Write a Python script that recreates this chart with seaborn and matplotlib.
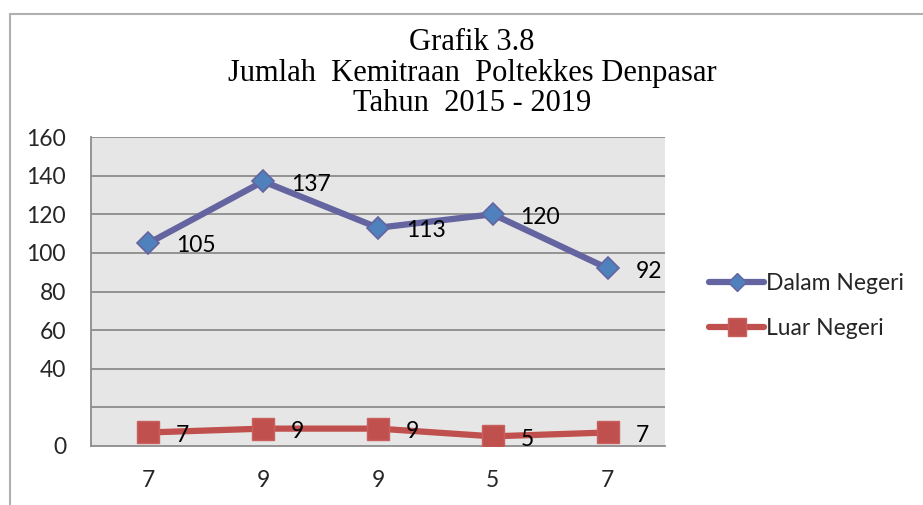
"""
Grafik 3.8 - Jumlah Kemitraan Poltekkes Denpasar, Tahun 2015 - 2019.
"""
import matplotlib
matplotlib.use("Agg")
import matplotlib.pyplot as plt
from matplotlib.lines import Line2D
from matplotlib.patches import Rectangle
import pandas as pd
import seaborn as sns

# data
tahun = [2015, 2016, 2017, 2018, 2019]
dalam_negeri = [105, 137, 113, 120, 92]
luar_negeri = [7, 9, 9, 5, 7]
x_labels = ["7", "9", "9", "5", "7"]
y_ticks = [0, 20, 40, 60, 80, 100, 120, 140, 160]
y_labels = ["0", "", "40", "60", "80", "100", "120", "140", "160"]
judul = ["Grafik 3.8", "Jumlah  Kemitraan  Poltekkes Denpasar", "Tahun  2015 - 2019"]

df = pd.DataFrame({"tahun": tahun, "Dalam Negeri": dalam_negeri, "Luar Negeri": luar_negeri})

sns.set_theme(style="white")
plt.rcParams["font.family"] = ["Lato", "DejaVu Sans"]

W, H = 923, 505
FS = 16.5
fig = plt.figure(figsize=(W / 100, H / 100), dpi=100)
ax = fig.add_axes([91 / W, 1 - 446 / H, 574 / W, 309 / H])
ax.set_facecolor("#e6e6e6")

DALAM_LINE = "#6464a0"
DALAM_FILL = "#4f81bd"
LUAR = "#c0504d"

sns.lineplot(data=df, x="tahun", y="Dalam Negeri", ax=ax, color=DALAM_LINE, lw=4.5,
             marker="D", markersize=11, markerfacecolor=DALAM_FILL,
             markeredgecolor=DALAM_LINE, markeredgewidth=1.2, zorder=3)
sns.lineplot(data=df, x="tahun", y="Luar Negeri", ax=ax, color=LUAR, lw=4.5,
             marker="s", markersize=16, markerfacecolor=LUAR,
             markeredgecolor="#c9605d", markeredgewidth=1, zorder=3)

for col in ["Dalam Negeri", "Luar Negeri"]:
    for x, v in zip(tahun, df[col]):
        ax.annotate(str(v), (x, v), xytext=(20, -2), textcoords="offset points",
                    ha="left", va="center", fontsize=FS, color="black", zorder=4)

ax.set_xlim(tahun[0] - 0.5, tahun[-1] + 0.5)
ax.set_ylim(0, 160)
ax.set_xticks(tahun)
ax.set_xticklabels(x_labels, fontsize=FS)
ax.set_yticks(y_ticks)
ax.set_yticklabels(y_labels, fontsize=FS)
ax.tick_params(axis="y", length=0, pad=18)
ax.tick_params(axis="x", length=0, pad=17)
ax.set_xlabel("")
ax.set_ylabel("")
for y in y_ticks[1:]:
    ax.axhline(y, color="#8c8c8c", lw=1.3, zorder=1)
for s in ["top", "right"]:
    ax.spines[s].set_visible(False)
for s in ["left", "bottom"]:
    ax.spines[s].set_color("#8c8c8c")
    ax.spines[s].set_linewidth(1.3)

handles = [
    Line2D([], [], color=DALAM_LINE, lw=4.5, marker="D", markersize=9,
           markerfacecolor=DALAM_FILL, markeredgecolor=DALAM_LINE, solid_capstyle="round"),
    Line2D([], [], color=LUAR, lw=4.5, marker="s", markersize=13,
           markerfacecolor=LUAR, markeredgecolor="#c9605d", solid_capstyle="round"),
]
fig.legend(handles, ["Dalam Negeri", "Luar Negeri"], loc="upper left",
           bbox_to_anchor=(700 / W, 1 - 264 / H), frameon=False, fontsize=FS,
           handlelength=2.4, handletextpad=0.1, labelspacing=1.05, borderaxespad=0)

for i, t in enumerate(judul):
    fig.text(472 / W, 1 - (50 + 30.5 * i) / H, t, ha="center", va="baseline",
             fontsize=22, family="Liberation Serif", color="black")

fig.patches.append(Rectangle((10 / W, -0.1), 1.2, 1 - 14 / H + 0.1, transform=fig.transFigure,
                             fill=False, edgecolor="#b0b0b0", lw=1.5))

fig.savefig("out.png", dpi=100)
